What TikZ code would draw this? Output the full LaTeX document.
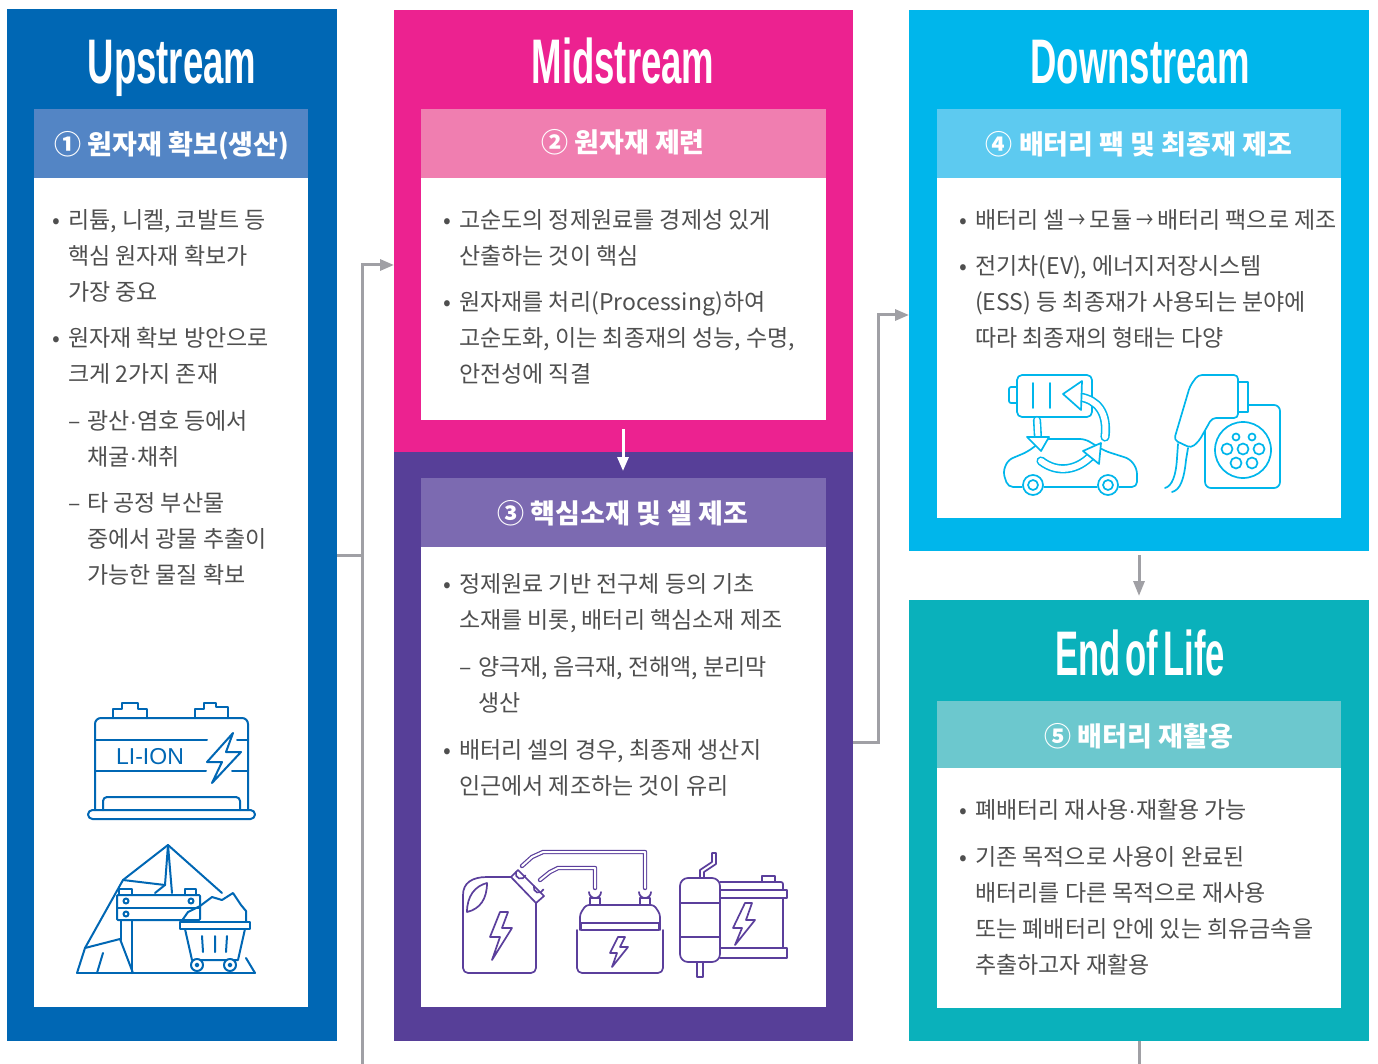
\documentclass[tikz,border=0pt]{standalone}
\usepackage{fontspec}
\usepackage{graphicx}
\setmainfont{Noto Sans CJK KR}
\newfontfamily\titlefont{Liberation Sans}
\usetikzlibrary{arrows.meta}

\definecolor{upblue}{HTML}{0067B4}
\definecolor{uphead}{HTML}{5385C5}
\definecolor{midpink}{HTML}{EC2290}
\definecolor{midhead}{HTML}{F07EB0}
\definecolor{corepurple}{HTML}{573F98}
\definecolor{corehead}{HTML}{7C6AB1}
\definecolor{corelines}{HTML}{5B3F9C}
\definecolor{downcyan}{HTML}{00B6EB}
\definecolor{downhead}{HTML}{5DCAF0}
\definecolor{eolteal}{HTML}{0AB1BB}
\definecolor{eolhead}{HTML}{6CC8CE}
\definecolor{conngray}{HTML}{A0A0A5}
\definecolor{bodytext}{HTML}{4F4F4F}

\newcommand\panel[6]{\node[panel, fill=#2, minimum width=#5pt, minimum height=#6pt] (#1) at (#3,#4) {};}
\newcommand\bul[1]{\makebox[#1][l]{•}}
\newcommand\dsh[1]{\makebox[#1][l]{–}}
\newcommand\ind[1]{\hspace*{#1}}
\newcommand\mdot{{\titlefont ·}}
\newcommand\sarr{\,\scalebox{0.75}[1]{→}\,}

\begin{document}
\begin{tikzpicture}[x=1pt,y=-1pt,
  panel/.style={anchor=north west, inner sep=0pt, outer sep=0pt, draw=none},
  title/.style={anchor=base, inner sep=0pt, text=white,
    font=\titlefont\bfseries\fontsize{63}{63}\selectfont},
  headtext/.style={anchor=base, inner sep=0pt, text=white,
    font=\bfseries\fontsize{27}{27}\selectfont},
  para/.style={anchor=north west, inner sep=0pt, yshift=25.2pt, align=left,
    text=bodytext, font=\fontsize{23}{36}\selectfont},
  conn/.style={draw=conngray, line width=3pt},
  tip/.style={-{Triangle[length=14pt,width=11pt]}},
  icon/.style={line width=2pt, line join=round, line cap=round},
  thinicon/.style={line width=1.7pt, line join=round, line cap=round},
]
\useasboundingbox (0,0) rectangle (1378,1064);
\fill[white] (0,0) rectangle (1378,1064);

% ---------- panels ----------
\panel{up}{upblue}{7}{9}{330}{1032}
\panel{uphd}{uphead}{34}{109}{274}{69}
\panel{upbx}{white}{34}{178}{274}{829}

\panel{mid}{midpink}{394}{10}{459}{442}
\panel{midhd}{midhead}{421}{109}{405}{69}
\panel{midbx}{white}{421}{178}{405}{242}

\panel{core}{corepurple}{394}{452}{459}{589}
\panel{corehd}{corehead}{421}{478}{405}{69}
\panel{corebx}{white}{421}{547}{405}{460}

\panel{down}{downcyan}{909}{10}{460}{541}
\panel{downhd}{downhead}{937}{109}{404}{69}
\panel{downbx}{white}{937}{178}{404}{340}

\panel{eol}{eolteal}{909}{600}{460}{441}
\panel{eolhd}{eolhead}{937}{701}{404}{67}
\panel{eolbx}{white}{937}{768}{404}{240}

% ---------- titles ----------
\node[title] (tup) at (172,84) {\scalebox{0.58}[1]{Upstream}};
\node[title] (tmid) at (623,84) {\scalebox{0.58}[1]{Midstream}};
\node[title] (tdown) at (1140,84) {\scalebox{0.58}[1]{Downstream}};
\node[title] (teol) at (1140,675) {\scalebox{0.55}[1]{End\hspace{9pt}of\hspace{9pt}Life}};

% ---------- header bars ----------
\node[headtext] (hup) at (172,155) {① 원자재 확보(생산)};
\node[headtext] (hmid) at (623,153) {② 원자재 제련};
\node[headtext] (hcore) at (623,523) {③ 핵심소재 및 셀 제조};
\node[headtext] (hdown) at (1139,155) {④ 배터리 팩 및 최종재 제조};
\node[headtext] (heol) at (1139,746) {⑤ 배터리 재활용};

% ---------- body text ----------
\node[para] (u1) at (52,228) {\strut\bul{16pt}리튬, 니켈, 코발트 등\\\ind{16pt}핵심 원자재 확보가\\\ind{16pt}가장 중요};
\node[para] (u2) at (52,346) {\strut\bul{16pt}원자재 확보 방안으로\\\ind{16pt}크게 2가지 존재};
\node[para] (u3) at (68,429) {\strut\dsh{19pt}광산\mdot 염호 등에서\\\ind{19pt}채굴\mdot 채취};
\node[para] (u4) at (68,511) {\strut\dsh{19pt}타 공정 부산물\\\ind{19pt}중에서 광물 추출이\\\ind{19pt}가능한 물질 확보};

\node[para] (m1) at (443,228) {\strut\bul{16pt}고순도의 정제원료를 경제성 있게\\\ind{16pt}산출하는 것이 핵심};
\node[para] (m2) at (443,310) {\strut\bul{16pt}원자재를 처리(Processing)하여\\\ind{16pt}고순도화, 이는 최종재의 성능, 수명,\\\ind{16pt}안전성에 직결};

\node[para] (c1) at (443,592) {\strut\bul{16pt}정제원료 기반 전구체 등의 기초\\\ind{16pt}소재를 비롯, 배터리 핵심소재 제조};
\node[para] (c2) at (459,675) {\strut\dsh{19pt}양극재, 음극재, 전해액, 분리막\\\ind{19pt}생산};
\node[para] (c3) at (443,758) {\strut\bul{16pt}배터리 셀의 경우, 최종재 생산지\\\ind{16pt}인근에서 제조하는 것이 유리};

\node[para] (d1) at (959,228) {\strut\bul{16pt}배터리 셀\sarr 모듈\sarr 배터리 팩으로 제조};
\node[para] (d2) at (959,274) {\strut\bul{16pt}전기차(EV), 에너지저장시스템\\\ind{16pt}(ESS) 등 최종재가 사용되는 분야에\\\ind{16pt}따라 최종재의 형태는 다양};

\node[para] (e1) at (959,818) {\strut\bul{16pt}폐배터리 재사용\mdot 재활용 가능};
\node[para] (e2) at (959,865) {\strut\bul{16pt}기존 목적으로 사용이 완료된\\\ind{16pt}배터리를 다른 목적으로 재사용\\\ind{16pt}또는 폐배터리 안에 있는 희유금속을\\\ind{16pt}추출하고자 재활용};

% ---------- connectors ----------
\coordinate (upout) at (337,555);
\coordinate (upbend) at (362,555);
\coordinate (upbot) at (362,1064);
\coordinate (uptop) at (362,265);
\coordinate (midin) at (394,265);
\draw[conn] (upout) -- (upbend);
\draw[conn, tip] (upbot) -- (uptop) -- (midin);

\coordinate (coreout) at (853,742);
\coordinate (corebend) at (878,742);
\coordinate (coretop) at (878,315);
\coordinate (downin) at (909,315);
\draw[conn, tip] (coreout) -- (corebend) -- (coretop) -- (downin);

\coordinate (midfrom) at (623,429);
\coordinate (coreto) at (623,471);
\draw[draw=white, line width=3pt, tip] (midfrom) -- (coreto);

\coordinate (downfrom) at (1139,555);
\coordinate (eolto) at (1139,596);
\draw[conn, -{Triangle[length=15pt,width=11pt]}] (downfrom) -- (eolto);

\coordinate (eolout) at (1139,1041);
\coordinate (eolbot) at (1139,1064);
\draw[conn] (eolout) -- (eolbot);

% ---------- icon: Li-ion battery ----------
\begin{scope}[icon, draw=upblue]
  \draw (113,718) -- (113,709) -- (122,709) -- (122,703) -- (138,703) -- (138,709) -- (147,709) -- (147,718);
  \draw (195,718) -- (195,709) -- (204,709) -- (204,703) -- (216,703) -- (216,707) -- (228,707) -- (228,718);
  \draw[rounded corners=6pt] (95,810) -- (95,718) -- (248,718) -- (248,810);
  \draw (95,740) -- (207,740) (237,740) -- (248,740);
  \draw (95,771) -- (206,771) (232,771) -- (248,771);
  \draw[rounded corners=4pt] (103,810) -- (103,797) -- (240,797) -- (240,810);
  \draw[rounded corners=4.5pt] (88,810) rectangle (255,819);
  \draw (233,733) -- (207,762) -- (222,762) -- (212,783) -- (241,752) -- (226,752) -- cycle;
\end{scope}
\node[inner sep=0pt, text=upblue, font=\titlefont\fontsize{23}{23}\selectfont] (liion) at (150,757) {LI-ION};

% ---------- icon: mine with ore cart ----------
\begin{scope}[icon, draw=upblue]
  \draw (77,973) -- (255,973);
  \draw (85,948) -- (123,880) -- (168,845) -- (222,893);
  \draw (123,880) -- (165,885) -- (168,845) -- (172,893);
  \draw (165,885) -- (155,893);
  \draw (85,948) -- (120,939) -- (133,973);
  \draw (103,953) -- (97,973);
  \draw (85,948) -- (77,973);
  \draw[rounded corners=1pt] (117,895) rectangle (200,920);
  \draw (117,908) -- (200,908);
  \draw (119,895) -- (119,889) -- (132,889) -- (132,895);
  \draw (185,895) -- (185,889) -- (196,889) -- (196,895);
  \draw (126,901) circle (2.5) (191,901) circle (2.5) (126,914) circle (2.5);
  \draw (121,920) -- (121,940);
  \draw (132,920) -- (132,973);
  \draw (181,922) -- (188,912) -- (200,906) -- (212,897) -- (222,900) -- (233,893) -- (241,905) -- (246,911) -- (246,922);
  \draw (180,922) rectangle (250,929);
  \draw (185,929) -- (192,960) -- (238,960) -- (245,929);
  \draw (202,936) -- (203,952) (215,936) -- (215,952) (227,936) -- (226,952);
  \draw[fill=white] (197,965) circle (6) (230,965) circle (6);
  \draw (197,965) circle (1.5) (230,965) circle (1.5);
  \draw (246,958) -- (255,973);
\end{scope}

% ---------- icon: jerry can, batteries ----------
\begin{scope}[thinicon, draw=corelines]
  % can
  \draw[rounded corners=5pt] (536,903) -- (536,973) -- (463,973) -- (463,895);
  \draw (463,895) .. controls (463,883) and (472,877) .. (487,877) -- (511,877);
  \draw (511,877) -- (518,870) -- (544,896) -- (536,903) -- (511,877);
  \draw (467,912) .. controls (467,896) and (475,886) .. (487,883) .. controls (487,899) and (480,909) .. (467,912);
  \draw (500,912) -- (490,937) -- (500,937) -- (492,960) -- (512,928) -- (502,928) -- (508,912) -- cycle;
  % clamps on the can
  \draw (516,872) arc (200:20:5);
  \draw (534,886) arc (200:20:5);
  % cables
  \draw[double=white, double distance=2pt, line width=1.2pt] (522,866) -- (532,857) -- (543,852) -- (645,852) -- (645,888);
  \draw[double=white, double distance=2pt, line width=1.2pt] (540,880) -- (550,872) -- (558,868) -- (595,868) -- (595,888);
  \draw (589,892) arc (180:0:6) (639,892) arc (180:0:6);
  % middle battery
  \draw (590,905) -- (590,898) -- (600,898) -- (600,905);
  \draw (640,905) -- (640,898) -- (650,898) -- (650,905);
  \draw[rounded corners=3pt] (580,930) -- (580,914) -- (586,905) -- (654,905) -- (660,914) -- (660,930);
  \draw (581,923) rectangle (659,930);
  \draw[rounded corners=5pt] (577,930) -- (577,973) -- (663,973) -- (663,930);
  \draw (618,937) -- (610,953) -- (617,953) -- (612,967) -- (628,947) -- (620,947) -- (625,937) -- cycle;
  % filter cylinder
  \draw[rounded corners=8pt] (680,878) rectangle (720,962);
  \draw (680,903) -- (720,903) (680,937) -- (720,937);
  \draw (700,878) -- (700,870) -- (712,862) -- (712,853) -- (716,853) -- (716,864) -- (704,872) -- (704,878);
  \draw (697,962) rectangle (703,977);
  % right battery
  \draw (762,882) -- (762,876) -- (775,876) -- (775,882);
  \draw[rounded corners=2pt] (720,882) -- (783,882) -- (783,890);
  \draw (720,890) -- (787,890) -- (787,898) -- (720,898);
  \draw (783,898) -- (783,948);
  \draw (720,948) -- (787,948) -- (787,958) -- (720,958);
  \draw (745,903) -- (733,928) -- (742,928) -- (735,945) -- (755,920) -- (746,920) -- (752,903) -- cycle;
\end{scope}

% ---------- icon: EV with battery swap ----------
\begin{scope}[thinicon, draw=downcyan]
  \draw[rounded corners=5pt] (1017,375) rectangle (1092,417);
  \draw[rounded corners=2pt] (1017,387) -- (1009,387) -- (1009,403) -- (1017,403);
  \draw (1033,383) -- (1033,408) (1050,383) -- (1050,408);
  % car body
  \draw[rounded corners=5pt] (1022,487) -- (1008,487) -- (1003,472) -- (1008,460) -- (1027,452) -- (1045,439) -- (1085,439) -- (1105,451) -- (1130,459) -- (1137,469) -- (1137,487) -- (1119,487);
  \draw (1044,487) -- (1097,487);
  \draw (1033,485) circle (10) (1033,485) circle (5);
  \draw (1108,485) circle (10) (1108,485) circle (5);
  % swap arrows
  \draw[double=white, double distance=6pt, line width=1.6pt] (1105,437) .. controls (1108,412) and (1097,400) .. (1080,397);
  \draw[fill=white] (1063,394) -- (1082,381) -- (1081,410) -- cycle;
  \draw[double=white, double distance=5pt, line width=1.6pt] (1037,420) -- (1038,438);
  \draw[fill=white] (1027,437) -- (1049,437) -- (1041,451) -- cycle;
  \draw[double=white, double distance=6pt, line width=1.6pt] (1041,461) .. controls (1058,474) and (1078,470) .. (1092,455);
  \draw[fill=white] (1101,443) -- (1083,451) -- (1099,464) -- cycle;
  % charger plug and socket
  \draw[rounded corners=6pt] (1248,405) -- (1280,405) -- (1280,488) -- (1205,488) -- (1205,425);
  \draw (1243,450) circle (28);
  \draw (1236,437) circle (3.5) (1252,437) circle (3.5);
  \draw (1227,449) circle (5.5) (1243,449) circle (5.5) (1259,449) circle (5.5);
  \draw (1236,463) circle (5.5) (1252,463) circle (5.5);
  \draw[rounded corners=4pt, fill=white] (1174,440) -- (1190,386) -- (1198,375) -- (1238,375) -- (1238,418) -- (1212,418) -- (1199,441) -- (1191,448) -- cycle;
  \draw (1238,382) rectangle (1248,412);
  \draw (1178,444) -- (1177,458) .. controls (1176,476) and (1172,486) .. (1165,488);
  \draw (1188,448) -- (1186,460) .. controls (1184,480) and (1180,490) .. (1172,492);
\end{scope}

\end{tikzpicture}
\end{document}
